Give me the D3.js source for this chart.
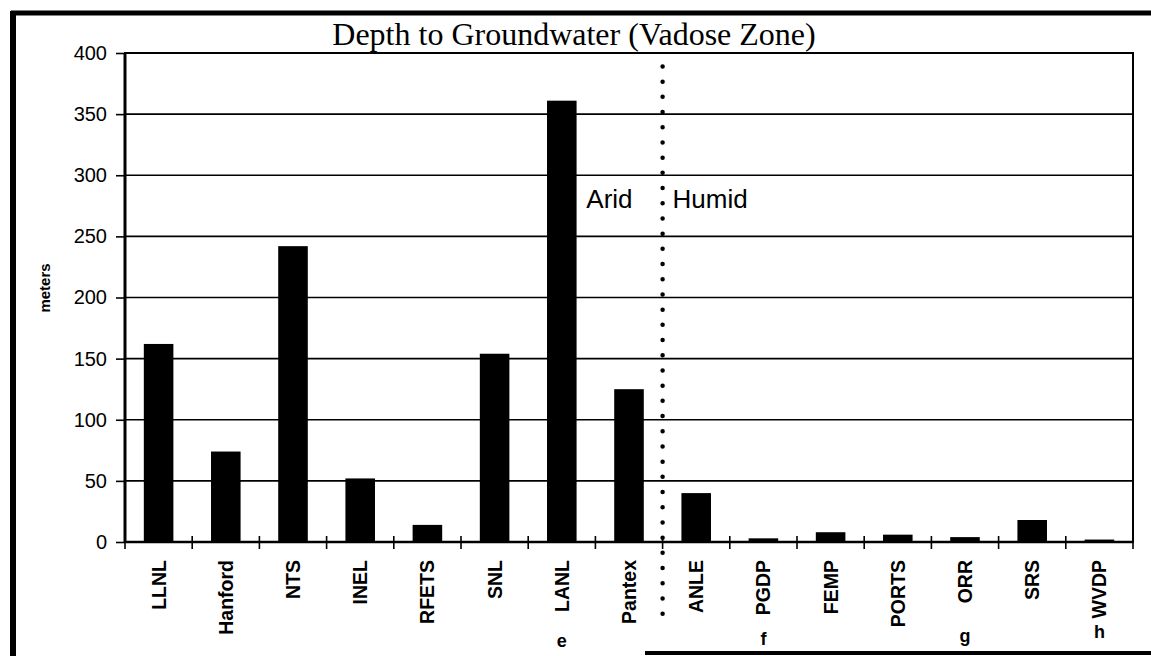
<!DOCTYPE html>
<html>
<head>
<meta charset="utf-8">
<script src="https://cdn.jsdelivr.net/npm/d3@7"></script>
<style>
  html, body { margin: 0; padding: 0; background: #fff; }
  svg { display: block; }
</style>
</head>
<body>
<script>
// ---- data ----
const categories = ["LLNL","Hanford","NTS","INEL","RFETS","SNL","LANL","Pantex","ANLE","PGDP","FEMP","PORTS","ORR","SRS","WVDP"];
const depths = [162, 74, 242, 52, 14, 154, 361, 125, 40, 3, 8, 6, 4, 18, 2];
const yTicks = [0, 50, 100, 150, 200, 250, 300, 350, 400];
const noteLetters = ["e", "f", "g", "h"];
const noteCats = ["LANL", "PGDP", "ORR", "WVDP"];
const zoneLabels = ["Arid", "Humid"];
const zoneSplitAfter = "Pantex";
const titleText = "Depth to Groundwater (Vadose Zone)";
const yTitle = "meters";

// ---- layout ----
const W = 1151, H = 656;
const L = 125, R = 1133, T = 53, B = 542;

const svg = d3.select("body").append("svg").attr("width", W).attr("height", H);

const x = d3.scaleBand().domain(categories).range([L, R]).padding(0);
const step = x.step();
const bw = step * 0.44;
const y = d3.scaleLinear().domain([0, 400]).range([B, T]);

// outer frame pieces (scanned page border)
svg.append("line").attr("x1", 11).attr("x2", W).attr("y1", 13).attr("y2", 13)
  .attr("stroke", "#000").attr("stroke-width", 5);
svg.append("line").attr("x1", 13).attr("x2", 13).attr("y1", 11).attr("y2", H)
  .attr("stroke", "#000").attr("stroke-width", 6);
svg.append("line").attr("x1", 645).attr("x2", W).attr("y1", 653).attr("y2", 653)
  .attr("stroke", "#000").attr("stroke-width", 4);

// gridlines
svg.append("g").selectAll("line").data(yTicks.filter(v => v > 0 && v < 400)).join("line")
  .attr("x1", L).attr("x2", R).attr("y1", d => y(d)).attr("y2", d => y(d))
  .attr("stroke", "#000").attr("stroke-width", 1.6);

// bars
svg.append("g").selectAll("rect").data(categories).join("rect")
  .attr("x", (d) => x(d) + (step - bw) / 2)
  .attr("width", bw)
  .attr("y", (d, i) => y(depths[i]))
  .attr("height", (d, i) => y(0) - y(depths[i]))
  .attr("fill", "#000");

// plot frame
svg.append("rect").attr("x", L).attr("y", T).attr("width", R - L).attr("height", B - T)
  .attr("fill", "none").attr("stroke", "#000").attr("stroke-width", 2);
svg.append("line").attr("x1", L).attr("x2", L).attr("y1", T).attr("y2", B)
  .attr("stroke", "#000").attr("stroke-width", 3);
svg.append("line").attr("x1", L).attr("x2", R).attr("y1", B).attr("y2", B)
  .attr("stroke", "#000").attr("stroke-width", 2.5);

// y axis
const yAxis = svg.append("g").attr("transform", `translate(${L},0)`)
  .call(d3.axisLeft(y).tickValues(yTicks).tickSize(9).tickPadding(9).tickFormat(d3.format("d")));
yAxis.select(".domain").remove();
yAxis.selectAll(".tick line").attr("stroke", "#000").attr("stroke-width", 1.6);
yAxis.selectAll(".tick text")
  .attr("font-family", "Liberation Sans, Arial, sans-serif")
  .attr("font-size", 20).attr("fill", "#000");

// x boundary ticks
const bounds = categories.map(c => x(c)).concat([R]);
svg.append("g").selectAll("line").data(bounds).join("line")
  .attr("x1", d => d).attr("x2", d => d).attr("y1", B - 6).attr("y2", B + 7)
  .attr("stroke", "#000").attr("stroke-width", 1.6);

// x labels
svg.append("g").selectAll("text").data(categories).join("text")
  .attr("transform", d => `translate(${x(d) + step / 2},${B + 18}) rotate(-90)`)
  .attr("text-anchor", "end").attr("dy", "0.36em")
  .attr("font-family", "Liberation Sans, Arial, sans-serif")
  .attr("font-weight", "bold").attr("font-size", 19.5).attr("fill", "#000")
  .text(d => d);

// note letters
const noteY = [647, 645, 642, 638];
svg.append("g").selectAll("text").data(noteLetters).join("text")
  .attr("x", (d, i) => x(noteCats[i]) + step / 2)
  .attr("y", (d, i) => noteY[i])
  .attr("text-anchor", "middle")
  .attr("font-family", "Liberation Sans, Arial, sans-serif")
  .attr("font-weight", "bold").attr("font-size", 18).attr("fill", "#000")
  .text(d => d);

// dotted divider
const splitX = x(zoneSplitAfter) + step;
svg.append("line").attr("x1", splitX).attr("x2", splitX)
  .attr("y1", y(389)).attr("y2", B + 83)
  .attr("stroke", "#000").attr("stroke-width", 4.5)
  .attr("stroke-linecap", "round").attr("stroke-dasharray", "0 15.2");

// zone labels
svg.append("text").attr("x", splitX - 30).attr("y", 208).attr("text-anchor", "end")
  .attr("font-family", "Liberation Sans, Arial, sans-serif").attr("font-size", 26).attr("fill", "#000")
  .text(zoneLabels[0]);
svg.append("text").attr("x", splitX + 10).attr("y", 208).attr("text-anchor", "start")
  .attr("font-family", "Liberation Sans, Arial, sans-serif").attr("font-size", 26).attr("fill", "#000")
  .text(zoneLabels[1]);

// title
svg.append("text").attr("x", 574).attr("y", 45).attr("text-anchor", "middle")
  .attr("font-family", "Liberation Serif, Times New Roman, serif").attr("font-size", 32).attr("fill", "#000")
  .text(titleText);

// y title
svg.append("text").attr("transform", "translate(45,288) rotate(-90)")
  .attr("text-anchor", "middle").attr("dy", "0.35em")
  .attr("font-family", "Liberation Sans, Arial, sans-serif")
  .attr("font-weight", "bold").attr("font-size", 15).attr("fill", "#000")
  .text(yTitle);
</script>
</body>
</html>
